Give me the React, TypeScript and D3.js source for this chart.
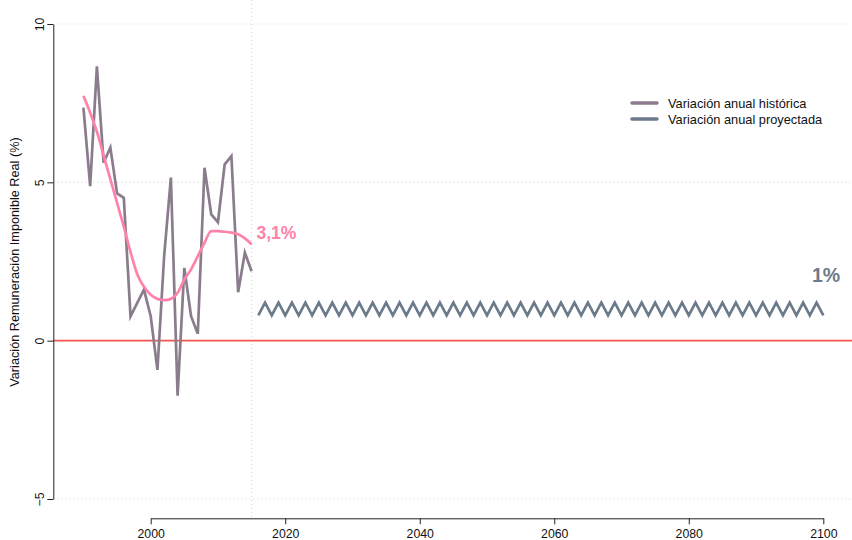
import React, { useEffect, useRef } from 'react'
import * as d3 from 'd3'

// historical series 1990-2015
const histYears = [1990, 1991, 1992, 1993, 1994, 1995, 1996, 1997, 1998, 1999, 2000, 2001, 2002,
    2003, 2004, 2005, 2006, 2007, 2008, 2009, 2010, 2011, 2012, 2013, 2014, 2015]
const histValues = [7.36, 4.88, 8.66, 5.62, 6.10, 4.65, 4.51, 0.77, 1.19, 1.61, 0.77, -0.92, 2.67,
    5.15, -1.74, 2.30, 0.77, 0.22, 5.46, 3.99, 3.74, 5.57, 5.83, 1.53, 2.78, 2.19]
// smoothed (lowess) trend of the historical series
const smoothValues = [7.73, 7.2, 6.6, 5.85, 5.1, 4.35, 3.6, 2.8, 2.1, 1.7, 1.45, 1.32, 1.28,
    1.32, 1.51, 1.93, 2.25, 2.67, 3.09, 3.46, 3.46, 3.44, 3.41, 3.36, 3.23, 3.04]

// projected series 2016-2100
const projYears = d3.range(2016, 2101)
const projValues = [
    0.8, 1.2, 0.8, 1.2, 0.8, 1.2, 0.8, 1.2, 0.8, 1.2,
    0.8, 1.2, 0.8, 1.2, 0.8, 1.2, 0.8, 1.2, 0.8, 1.2,
    0.8, 1.2, 0.8, 1.2, 0.8, 1.2, 0.8, 1.2, 0.8, 1.2,
    0.8, 1.2, 0.8, 1.2, 0.8, 1.2, 0.8, 1.2, 0.8, 1.2,
    0.8, 1.2, 0.8, 1.2, 0.8, 1.2, 0.8, 1.2, 0.8, 1.2,
    0.8, 1.2, 0.8, 1.2, 0.8, 1.2, 0.8, 1.2, 0.8, 1.2,
    0.8, 1.2, 0.8, 1.2, 0.8, 1.2, 0.8, 1.2, 0.8, 1.2,
    0.8, 1.2, 0.8, 1.2, 0.8, 1.2, 0.8, 1.2, 0.8, 1.2,
    0.8, 1.2, 0.8, 1.2, 0.8,
]

const xTicks = [2000, 2020, 2040, 2060, 2080, 2100]
const yTicks = [-5, 0, 5, 10]
const gridYs = [-5, 5, 10]
const legendLabels = ['Variación anual histórica', 'Variación anual proyectada']
const histLabel = '3,1%'
const projLabel = '1%'
const yTitle = 'Variación Remuneración Imponible Real (%)'

const FONT = '"Liberation Sans", Arial, Helvetica, sans-serif'
const C_HIST = '#8a7c8c'
const C_PROJ = '#6c7b8b'
const C_SMOOTH = '#ff82aa'
const C_ZERO = '#f4564e'
const C_GRID = '#d6d6c2'

export default function App() {
    const ref = useRef<SVGSVGElement>(null)

    useEffect(() => {
        const width = 852
        const height = 540
        const svg = d3.select(ref.current!)
        svg.selectAll('*').remove()
        svg.attr('width', width).attr('height', height)

        const x = d3.scaleLinear().domain([2000, 2100]).range([150.7, 823.3])
        const y = d3.scaleLinear().domain([-5, 10]).range([499, 24])
        const left = 53.3
        const axisY = 518.3

        // grid
        svg.append('g').selectAll('line').data(gridYs).join('line')
            .attr('x1', left).attr('x2', width)
            .attr('y1', d => y(d)).attr('y2', d => y(d))
            .attr('stroke', C_GRID).attr('stroke-width', 1).attr('stroke-dasharray', '1,3')

        svg.append('line')
            .attr('x1', x(2015)).attr('x2', x(2015))
            .attr('y1', 0).attr('y2', axisY)
            .attr('stroke', C_GRID).attr('stroke-width', 1).attr('stroke-dasharray', '1,3')

        // zero line
        svg.append('line')
            .attr('x1', left).attr('x2', width)
            .attr('y1', y(0)).attr('y2', y(0))
            .attr('stroke', C_ZERO).attr('stroke-width', 1.6)

        // axes
        const xAxis = svg.append('g')
            .attr('transform', `translate(0,${axisY})`)
            .call(d3.axisBottom(x).tickValues(xTicks).tickSize(6).tickSizeOuter(0).tickPadding(5).tickFormat(d3.format('d')))
        xAxis.selectAll('text').attr('font-size', 12.3).attr('font-family', FONT).attr('fill', '#111')
        xAxis.selectAll('line,path').attr('stroke', '#222')

        const yAxis = svg.append('g')
            .attr('transform', `translate(${left},0)`)
            .call(d3.axisLeft(y).tickValues(yTicks).tickSize(6).tickSizeOuter(0).tickFormat(d => d3.format('d')(d as number).replace('-', '\u2212')))
        yAxis.selectAll('line,path').attr('stroke', '#222')
        yAxis.selectAll('text')
            .attr('font-size', 12.3).attr('font-family', FONT).attr('fill', '#111')
            .attr('x', null).attr('dy', null)
            .attr('text-anchor', 'middle')
            .attr('transform', 'translate(-9.5,0) rotate(-90)')

        svg.append('text')
            .attr('transform', `translate(19,262) rotate(-90)`)
            .attr('text-anchor', 'middle')
            .attr('font-size', 12.7).attr('font-family', FONT).attr('fill', '#111')
            .text(yTitle)

        // lines
        const hist = histYears.map((yr, i) => ({ x: yr, y: histValues[i] }))
        const smooth = histYears.map((yr, i) => ({ x: yr, y: smoothValues[i] }))
        const proj = projYears.map((yr, i) => ({ x: yr, y: projValues[i] }))

        const line = d3.line<{ x: number, y: number }>().x(d => x(d.x)).y(d => y(d.y))

        svg.append('path').datum(proj)
            .attr('fill', 'none').attr('stroke', C_PROJ).attr('stroke-width', 2.7)
            .attr('stroke-linejoin', 'miter').attr('d', line)

        svg.append('path').datum(hist)
            .attr('fill', 'none').attr('stroke', C_HIST).attr('stroke-width', 2.7)
            .attr('stroke-linejoin', 'miter').attr('d', line)

        svg.append('path').datum(smooth)
            .attr('fill', 'none').attr('stroke', C_SMOOTH).attr('stroke-width', 2.7)
            .attr('d', line.curve(d3.curveMonotoneX))

        // end labels
        svg.append('text')
            .attr('x', 256.5).attr('y', 239)
            .attr('font-size', 17.5).attr('font-weight', 'bold').attr('font-family', FONT)
            .attr('fill', C_SMOOTH).text(histLabel)

        svg.append('text')
            .attr('x', 812).attr('y', 282)
            .attr('font-size', 19.5).attr('font-weight', 'bold').attr('font-family', FONT)
            .attr('fill', C_PROJ).text(projLabel)

        // legend
        const legend = svg.append('g').attr('transform', 'translate(632,103)')
        const legendColors = [C_HIST, C_PROJ]
        legendLabels.forEach((lab, i) => {
            legend.append('line')
                .attr('x1', 0).attr('x2', 25).attr('y1', i * 16).attr('y2', i * 16)
                .attr('stroke', legendColors[i]).attr('stroke-width', 3.5).attr('stroke-linecap', 'round')
            legend.append('text')
                .attr('x', 36).attr('y', i * 16 + 4.5)
                .attr('font-size', 12.8).attr('font-family', FONT).attr('fill', '#111')
                .text(lab)
        })
    }, [])

    return (
        <div>
            <svg ref={ref} style={{ position: 'absolute', left: 0, top: 0 }}></svg>
        </div>
    )
}
